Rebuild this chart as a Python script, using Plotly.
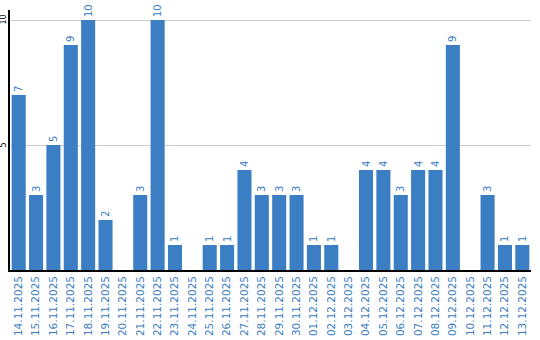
import plotly.graph_objects as go

dates = ["14.11.2025", "15.11.2025", "16.11.2025", "17.11.2025", "18.11.2025", "19.11.2025",
         "20.11.2025", "21.11.2025", "22.11.2025", "23.11.2025", "24.11.2025", "25.11.2025",
         "26.11.2025", "27.11.2025", "28.11.2025", "29.11.2025", "30.11.2025", "01.12.2025",
         "02.12.2025", "03.12.2025", "04.12.2025", "05.12.2025", "06.12.2025", "07.12.2025",
         "08.12.2025", "09.12.2025", "10.12.2025", "11.12.2025", "12.12.2025", "13.12.2025"]
counts = [7, 3, 5, 9, 10, 2, 0, 3, 10, 1, 0, 1, 1, 4, 3, 3, 3, 1, 1, 0, 4, 4, 3, 4, 4, 9, 0, 3, 1, 1]
y_ticks = [5, 10]

blue = "#3b7ec4"
labels = [str(v) if v else "" for v in counts]

fig = go.Figure(go.Bar(
    x=dates, y=counts, text=labels, textposition="outside", textangle=-90,
    textfont=dict(color=blue, size=10, family="DejaVu Sans"),
    marker=dict(color=blue, line=dict(width=0)), cliponaxis=False,
))
fig.update_layout(
    width=540, height=340, margin=dict(l=10, r=9, t=10, b=70, autoexpand=False),
    plot_bgcolor="white", paper_bgcolor="white", bargap=0.19, showlegend=False,
    uniformtext=dict(minsize=6, mode="show"),
)
fig.update_xaxes(
    type="category", tickangle=-90, tickfont=dict(color=blue, size=10.5, family="DejaVu Sans"),
    showline=True, linecolor="black", linewidth=1.5, ticks="", showgrid=False, automargin=False,
)
fig.update_yaxes(
    range=[0, 10.4], tickvals=y_ticks, showticklabels=False,
    showline=True, linecolor="black", linewidth=1.5, showgrid=True, gridcolor="#cccccc",
    zeroline=False, ticks="", automargin=False,
)
for v in y_ticks:
    fig.add_annotation(
        x=0, xref="paper", xanchor="right", xshift=-1, y=v, yref="y", yanchor="middle",
        text=str(v), textangle=-90, showarrow=False,
        font=dict(color="black", size=8, family="DejaVu Sans"),
    )
fig.write_html("out.html")
